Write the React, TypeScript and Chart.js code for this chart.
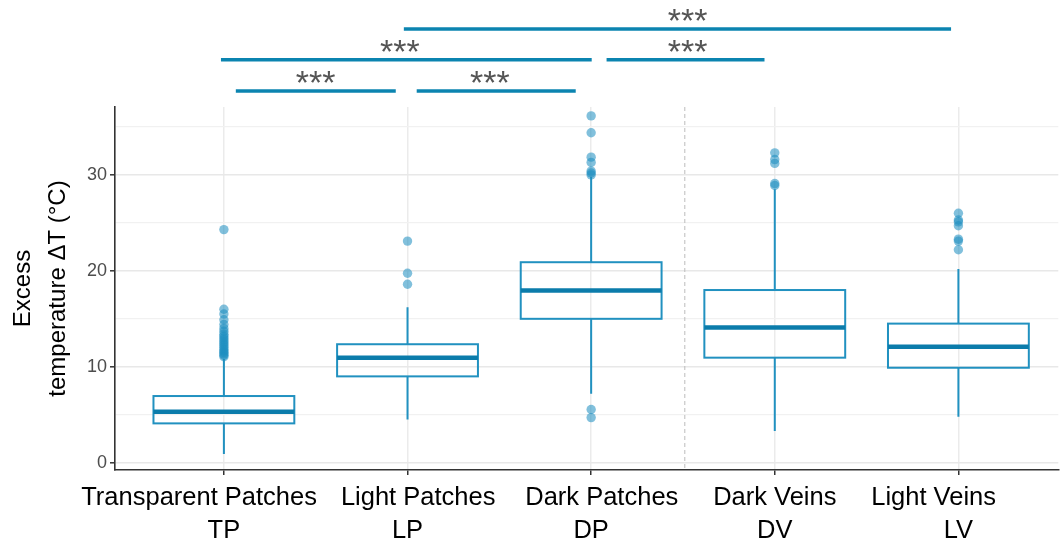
import { useEffect, useRef } from 'react';
import { Chart, registerables } from 'chart.js';

Chart.register(...registerables);

// ---------- data ----------
// (spaces in the first line reproduce the off-centre placement of the original labels)
const categories = ['Transparent Patches       ', '   Light Patches', '   Dark Patches', 'Dark Veins', 'Light Veins       '];
const abbrevs = ['TP', 'LP', 'DP', 'DV', 'LV'];

const whiskerLow = [0.9, 4.5, 7.2, 3.3, 4.8];
const q1 = [4.1, 9.0, 15.0, 10.95, 9.9];
const median = [5.3, 10.95, 17.95, 14.1, 12.1];
const q3 = [6.95, 12.35, 20.9, 18.0, 14.5];
const whiskerHigh = [10.8, 16.2, 29.8, 28.5, 20.2];

const outliersTP = [11.05, 11.2, 11.35, 11.5, 11.65, 11.8, 12.0, 12.2, 12.4, 12.6, 12.8, 13.0, 13.2, 13.4, 13.7, 14.0, 14.4, 14.9, 15.5, 16.0, 24.3];
const outliersLP = [18.6, 19.75, 23.1];
const outliersDP = [4.7, 5.55, 30.0, 30.2, 30.4, 31.3, 31.85, 34.4, 36.15];
const outliersDV = [28.9, 29.1, 31.2, 31.6, 32.3];
const outliersLV = [22.2, 23.1, 23.3, 24.7, 25.1, 25.3, 26.0];
const outliers = [outliersTP, outliersLP, outliersDP, outliersDV, outliersLV];

const yTickValues = [0, 5, 10, 15, 20, 25, 30, 35];

// significance brackets (category units) and their labels
const sigFrom = [0.98, -0.016, 2.084, 0.065, 1.05];
const sigTo = [3.96, 2.003, 2.944, 0.936, 1.916];
const sigLevel = [45.2, 42.0, 42.0, 38.75, 38.75];
const sigLabelX = [2.525, 0.958, 2.525, 0.5, 1.448];
const sigLabels = ['***', '***', '***', '***', '***'];

const separatorAt = 2.51;
const boxWidth = 0.767;

const FONT = "'Liberation Sans', Arial, Helvetica, sans-serif";

export default function App() {
  const ref = useRef<HTMLCanvasElement>(null);

  useEffect(() => {
    if (!ref.current) return;

    const boxPlugin = {
      id: 'boxplot',
      beforeDatasetsDraw(chart: any) {
        const { ctx, chartArea } = chart;
        const x = chart.scales.x;
        const y = chart.scales.y;
        ctx.save();
        // dashed separator
        const sx = x.getPixelForValue(separatorAt);
        ctx.strokeStyle = '#bdbdbd';
        ctx.lineWidth = 1;
        ctx.setLineDash([4, 3]);
        ctx.beginPath();
        ctx.moveTo(sx, chartArea.top);
        ctx.lineTo(sx, chartArea.bottom);
        ctx.stroke();
        ctx.setLineDash([]);

        for (let i = 0; i < abbrevs.length; i++) {
          const cx = x.getPixelForValue(i);
          const left = x.getPixelForValue(i - boxWidth / 2);
          const right = x.getPixelForValue(i + boxWidth / 2);
          const yLow = y.getPixelForValue(whiskerLow[i]);
          const yQ1 = y.getPixelForValue(q1[i]);
          const yMed = y.getPixelForValue(median[i]);
          const yQ3 = y.getPixelForValue(q3[i]);
          const yHigh = y.getPixelForValue(whiskerHigh[i]);

          ctx.strokeStyle = '#2191c0';
          ctx.lineWidth = 2;
          ctx.beginPath();
          ctx.moveTo(cx, yLow);
          ctx.lineTo(cx, yQ1);
          ctx.moveTo(cx, yQ3);
          ctx.lineTo(cx, yHigh);
          ctx.stroke();

          ctx.strokeRect(left, yQ3, right - left, yQ1 - yQ3);

          ctx.strokeStyle = '#0b7cab';
          ctx.lineWidth = 4.5;
          ctx.beginPath();
          ctx.moveTo(left, yMed);
          ctx.lineTo(right, yMed);
          ctx.stroke();
        }
        ctx.restore();
      },
      afterDraw(chart: any) {
        const { ctx } = chart;
        const x = chart.scales.x;
        const y = chart.scales.y;
        ctx.save();
        for (let k = 0; k < sigFrom.length; k++) {
          const py = y.getPixelForValue(sigLevel[k]);
          ctx.strokeStyle = '#0b84b0';
          ctx.lineWidth = 3.5;
          ctx.beginPath();
          ctx.moveTo(x.getPixelForValue(sigFrom[k]), py);
          ctx.lineTo(x.getPixelForValue(sigTo[k]), py);
          ctx.stroke();
          ctx.fillStyle = '#555555';
          ctx.font = `34px ${FONT}`;
          ctx.textAlign = 'center';
          ctx.textBaseline = 'alphabetic';
          ctx.fillText(sigLabels[k], x.getPixelForValue(sigLabelX[k]), py + 3);
        }
        ctx.restore();
      },
    };

    const points: { x: number; y: number }[] = [];
    outliers.forEach((list, i) => list.forEach((v) => points.push({ x: i, y: v })));

    const chart = new Chart(ref.current, {
      type: 'scatter',
      data: {
        datasets: [
          {
            data: points,
            pointRadius: 4.7,
            pointHoverRadius: 4.7,
            pointBackgroundColor: 'rgba(30,142,192,0.56)',
            pointBorderWidth: 0,
            borderWidth: 0,
          },
        ],
      },
      options: {
        animation: false,
        responsive: false,
        layout: { padding: { top: 107, right: 0, left: 0, bottom: 0 } },
        plugins: { legend: { display: false }, tooltip: { enabled: false } },
        scales: {
          x: {
            type: 'linear',
            min: -0.593,
            max: 4.544,
            afterBuildTicks: (s: any) => {
              s.ticks = abbrevs.map((_, i) => ({ value: i }));
            },
            afterFit: (s: any) => {
              s.height = 77;
            },
            grid: {
              color: '#ebebeb',
              lineWidth: 1.5,
              tickLength: 5,
              tickColor: '#333333',
              tickWidth: 1.5,
            },
            border: { display: true, color: '#333333', width: 1.6 },
            ticks: {
              autoSkip: false,
              maxRotation: 0,
              minRotation: 0,
              padding: 7,
              color: '#000000',
              font: { family: FONT, size: 25.5, lineHeight: 32.5 / 25.5 },
              callback: (v: any) => [categories[v], abbrevs[v]],
            },
          },
          y: {
            type: 'linear',
            min: -0.76,
            max: 37.08,
            afterBuildTicks: (s: any) => {
              s.ticks = yTickValues.map((v) => ({ value: v }));
            },
            afterFit: (s: any) => {
              s.width = 115;
            },
            grid: {
              color: (c: any) => (c.tick && c.tick.value % 10 === 0 ? '#e8e8e8' : '#f1f1f1'),
              lineWidth: (c: any) => (c.tick && c.tick.value % 10 === 0 ? 1.6 : 1.2),
              tickLength: 5,
              tickColor: (c: any) => (c.tick && c.tick.value % 10 === 0 ? '#333333' : 'rgba(0,0,0,0)'),
              tickWidth: 1.5,
            },
            border: { display: true, color: '#333333', width: 1.6 },
            ticks: {
              padding: 3,
              color: '#4d4d4d',
              font: { family: FONT, size: 18 },
              callback: (v: any) => (v % 10 === 0 ? String(v) : ''),
            },
            title: {
              display: true,
              text: ['Excess', 'temperature ΔT (°C)'],
              color: '#000000',
              font: { family: FONT, size: 24, lineHeight: 35 / 24 },
              padding: { top: 6, bottom: 0 },
            },
          },
        },
      },
      plugins: [boxPlugin],
    });

    return () => chart.destroy();
  }, []);

  return (
    <div style={{ position: 'fixed', left: 0, top: 0, width: 1063, height: 547, background: '#fff' }}>
      <canvas ref={ref} width={1063} height={547} style={{ display: 'block' }} />
    </div>
  );
}
